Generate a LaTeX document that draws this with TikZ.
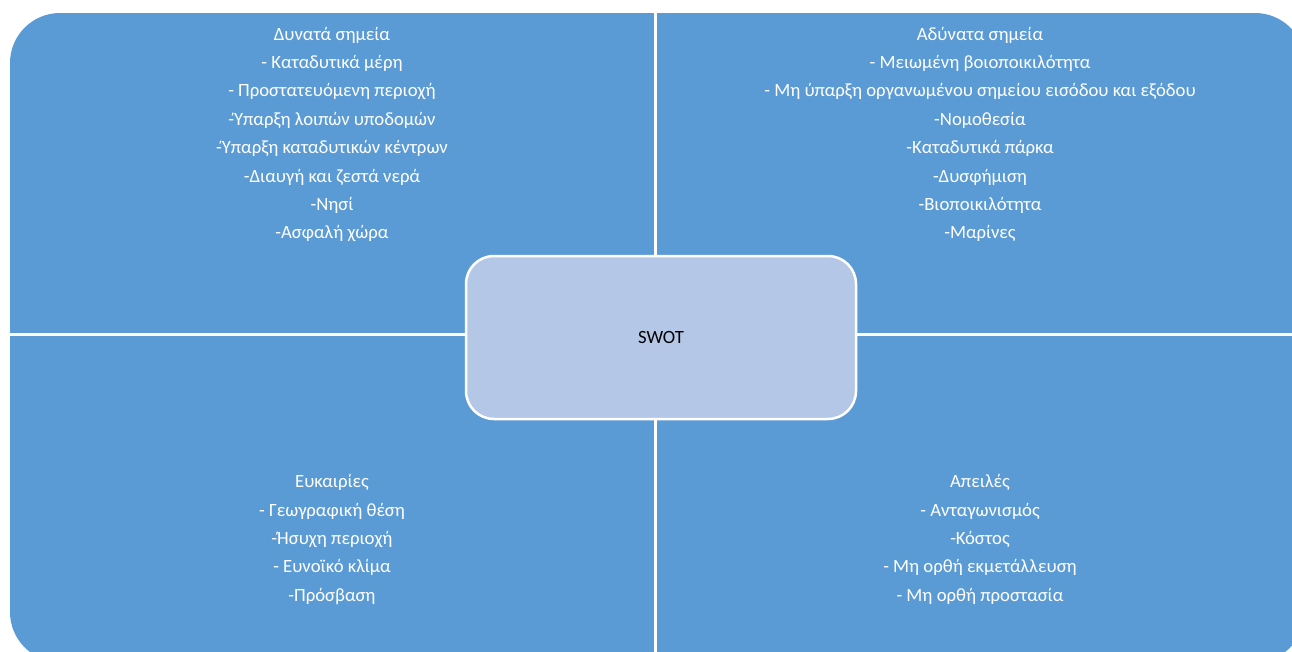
\documentclass[tikz,border=0pt]{standalone}
\usepackage{fontspec}
\setmainfont{Carlito}
\definecolor{quadblue}{HTML}{5B9BD5}
\definecolor{swotfill}{HTML}{B4C7E7}
\tikzset{
  quadtext/.style={text=white, align=center, inner sep=0pt,
    font=\fontsize{18.7}{28.4}\selectfont},
  gapline/.style={draw=white, line width=3pt},
  swotbox/.style={draw=white, line width=2.5pt, fill=swotfill,
    rounded corners=28pt, minimum width=390pt, minimum height=163pt,
    font=\fontsize{18.7}{24}\selectfont}
}
\begin{document}
\begin{tikzpicture}[x=1pt,y=-1pt]
  \useasboundingbox (0,0) rectangle (1292,651);
  \clip (0,0) rectangle (1292,651);

  % the four quadrants
  \fill[quadblue, rounded corners=50pt] (10,13) rectangle (1305,662);
  \draw[gapline] (655.5,0) -- (655.5,662);
  \draw[gapline] (0,334.5) -- (1305,334.5);

  % texts
  \node[quadtext] (strengths) at (332,134.5) {Δυνατά σημεία\\
    - Καταδυτικά μέρη\\
    - Προστατευόμενη περιοχή\\
    -Ύπαρξη λοιπών υποδομών\\
    -Ύπαρξη καταδυτικών κέντρων\\
    -Διαυγή και ζεστά νερά\\
    -Νησί\\
    -Ασφαλή χώρα};
  \node[quadtext] (weaknesses) at (980,134.5) {Αδύνατα σημεία\\
    - Μειωμένη βοιοποικιλότητα\\
    - Μη ύπαρξη οργανωμένου σημείου εισόδου και εξόδου\\
    -Νομοθεσία\\
    -Καταδυτικά πάρκα\\
    -Δυσφήμιση\\
    -Βιοποικιλότητα\\
    -Μαρίνες};
  \node[quadtext] (opportunities) at (332,539.5) {Ευκαιρίες\\
    - Γεωγραφική θέση\\
    -Ήσυχη περιοχή\\
    - Ευνοϊκό κλίμα\\
    -Πρόσβαση};
  \node[quadtext] (threats) at (980,539.5) {Απειλές\\
    - Ανταγωνισμός\\
    -Κόστος\\
    - Μη ορθή εκμετάλλευση\\
    - Μη ορθή προστασία};

  % centre box
  \node[swotbox] (swot) at (661,337.5) {SWOT};
\end{tikzpicture}
\end{document}
